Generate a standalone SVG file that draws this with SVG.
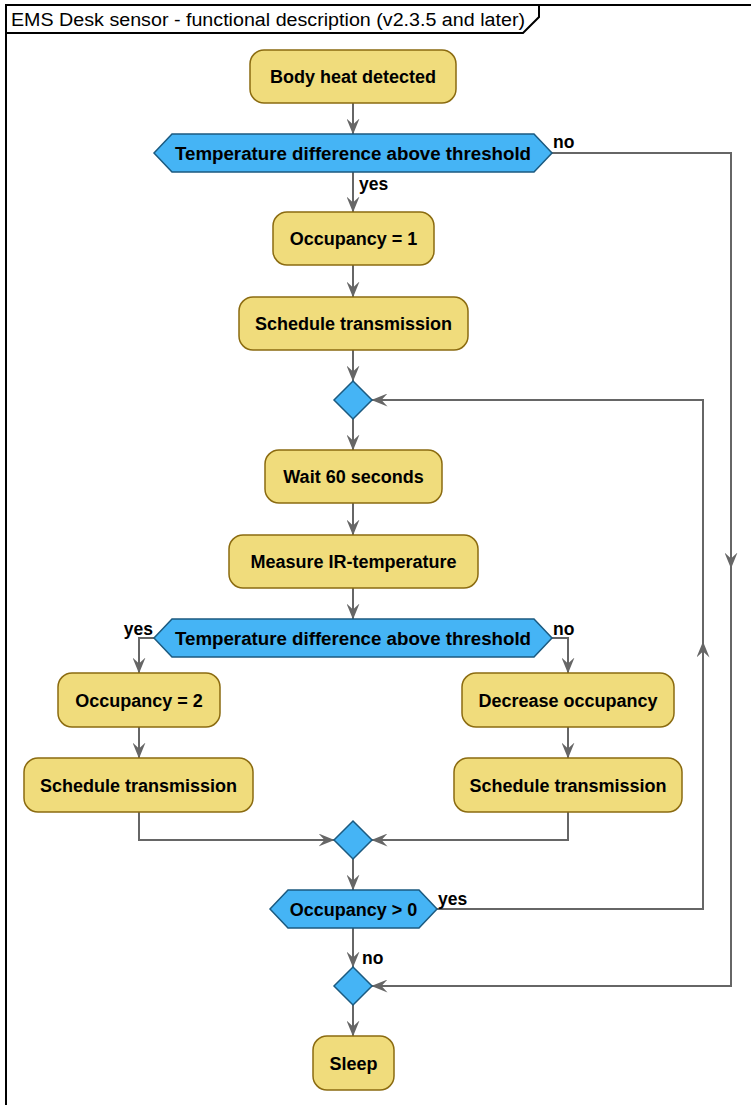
<svg xmlns="http://www.w3.org/2000/svg" width="751" height="1105" viewBox="0 0 751 1105">
<style>
.box{fill:#F0DC7C;stroke:#8B6B10;stroke-width:1.5}
.dec{fill:#45B4F5;stroke:#1B5A80;stroke-width:1.5}
.t{font-family:"Liberation Sans",Arial,sans-serif;font-size:18px;font-weight:bold;fill:#000;text-anchor:middle}
.lbl{font-family:"Liberation Sans",Arial,sans-serif;font-size:17.5px;font-weight:bold;fill:#000}
.c{fill:none;stroke:#666;stroke-width:2;marker-end:url(#ah)}
.frame{fill:none;stroke:#000;stroke-width:2}
</style>
<defs>
<marker id="ah" markerUnits="userSpaceOnUse" markerWidth="16" markerHeight="13" viewBox="0 0 16 13" refX="15.5" refY="6.5" orient="auto">
<path d="M0,0 L16,6.5 L0,13 L6,6.5 Z" fill="#666"/>
</marker>
</defs>
<rect width="751" height="1105" fill="#fff"/>
<g id="frame">
<path class="frame" d="M6,1105 V5 H751"/>
<path class="frame" d="M6,33 H523 L539,17 V5"/>
<text x="11" y="26" font-family="Liberation Sans, Arial, sans-serif" font-size="18" textLength="514" lengthAdjust="spacingAndGlyphs">EMS Desk sensor - functional description (v2.3.5 and later)</text>
</g>
<g id="connectors">
<path class="c" d="M353,103 V134"/>
<path class="c" d="M353,172 V212"/>
<path class="c" d="M552,153 H731 V568"/>
<path class="c" d="M731,568 V986 H372"/>
<path class="c" d="M353,265 V297"/>
<path class="c" d="M353,350 V381"/>
<path class="c" d="M353,419 V450"/>
<path class="c" d="M353,503 V535"/>
<path class="c" d="M353,588 V619"/>
<path class="c" d="M154,638 H139 V673"/>
<path class="c" d="M552,638 H568 V673"/>
<path class="c" d="M139,727 V758"/>
<path class="c" d="M568,727 V758"/>
<path class="c" d="M139,812 V840 H334"/>
<path class="c" d="M568,812 V840 H372"/>
<path class="c" d="M353,859 V890"/>
<path class="c" d="M437,909 H703 V642"/>
<path class="c" d="M703,642 V400 H372"/>
<path class="c" d="M353,928 V967"/>
<path class="c" d="M353,1005 V1036"/>
<text class="lbl" x="553" y="148">no</text>
<text class="lbl" x="359" y="190">yes</text>
<text class="lbl" x="153" y="635" text-anchor="end">yes</text>
<text class="lbl" x="553" y="635">no</text>
<text class="lbl" x="438" y="905">yes</text>
<text class="lbl" x="362" y="964">no</text>
</g>
<g id="n1"><rect class="box" x="250" y="50" width="206" height="53" rx="14"/><text class="t" x="353" y="83">Body heat detected</text></g>
<g id="d1"><polygon class="dec" points="154,153 172,134 534,134 552,153 534,172 172,172"/><text class="t" x="353" y="160" textLength="356" lengthAdjust="spacingAndGlyphs">Temperature difference above threshold</text></g>
<g id="n2"><rect class="box" x="273" y="212" width="161" height="53" rx="14"/><text class="t" x="353.5" y="245">Occupancy = 1</text></g>
<g id="n3"><rect class="box" x="239" y="297" width="229" height="53" rx="14"/><text class="t" x="353.5" y="330">Schedule transmission</text></g>
<g id="m1"><polygon class="dec" points="353,381 372,400 353,419 334,400"/></g>
<g id="n4"><rect class="box" x="265" y="450" width="177" height="53" rx="14"/><text class="t" x="353.5" y="483">Wait 60 seconds</text></g>
<g id="n5"><rect class="box" x="229" y="535" width="249" height="53" rx="14"/><text class="t" x="353.5" y="568">Measure IR-temperature</text></g>
<g id="d2"><polygon class="dec" points="154,638 172,619 534,619 552,638 534,657 172,657"/><text class="t" x="353" y="645" textLength="356" lengthAdjust="spacingAndGlyphs">Temperature difference above threshold</text></g>
<g id="n6"><rect class="box" x="58" y="673" width="162" height="54" rx="14"/><text class="t" x="139" y="706.5">Occupancy = 2</text></g>
<g id="n7"><rect class="box" x="24" y="758" width="229" height="54" rx="14"/><text class="t" x="138.5" y="791.5">Schedule transmission</text></g>
<g id="n8"><rect class="box" x="462" y="673" width="212" height="54" rx="14"/><text class="t" x="568" y="706.5">Decrease occupancy</text></g>
<g id="n9"><rect class="box" x="454" y="758" width="228" height="54" rx="14"/><text class="t" x="568" y="791.5">Schedule transmission</text></g>
<g id="m2"><polygon class="dec" points="353,821 372,840 353,859 334,840"/></g>
<g id="d3"><polygon class="dec" points="270,909 288,890 419,890 437,909 419,928 288,928"/><text class="t" x="353.5" y="916">Occupancy &gt; 0</text></g>
<g id="m3"><polygon class="dec" points="353,967 372,986 353,1005 334,986"/></g>
<g id="n10"><rect class="box" x="313" y="1036" width="81" height="54" rx="14"/><text class="t" x="353.5" y="1069.5">Sleep</text></g>
</svg>
